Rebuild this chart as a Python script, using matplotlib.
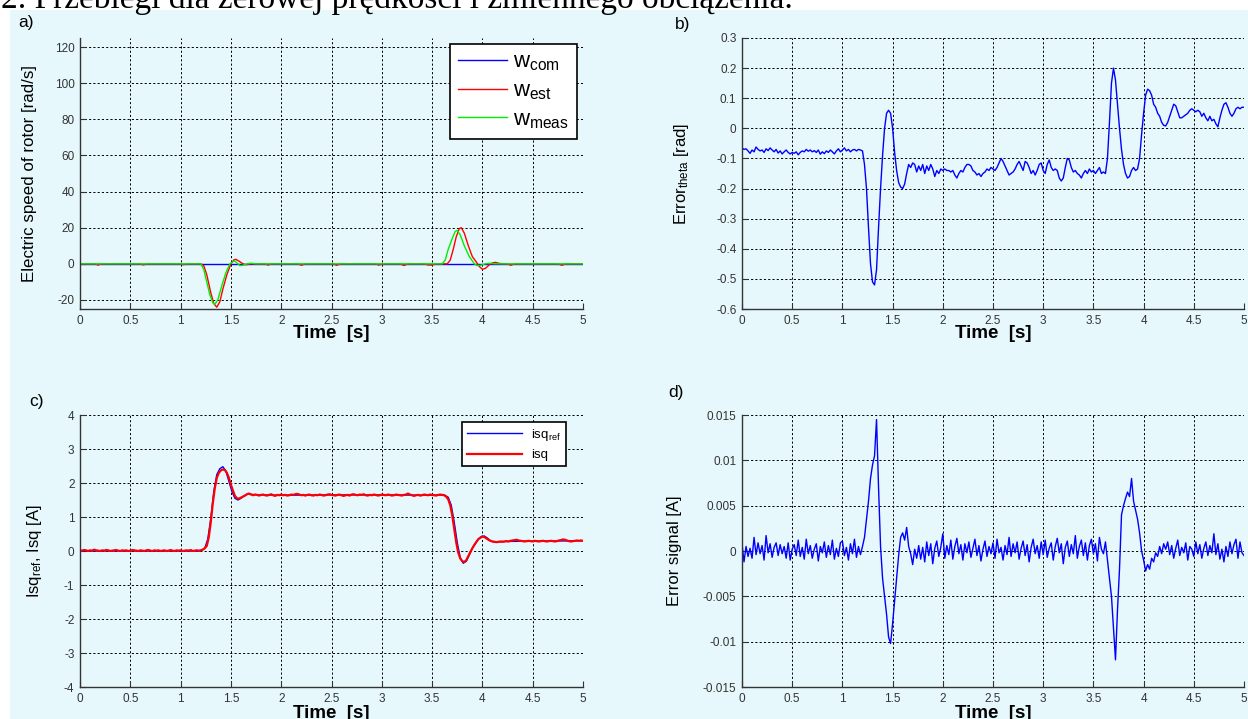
import numpy as np
import matplotlib
matplotlib.use('Agg')
import matplotlib.pyplot as plt
from matplotlib.patches import Rectangle

plt.rcParams['font.family'] = ['Liberation Sans', 'DejaVu Sans']
plt.rcParams['mathtext.fontset'] = 'custom'
plt.rcParams['mathtext.rm'] = 'Liberation Sans'
plt.rcParams['mathtext.it'] = 'Liberation Sans'

# ---------------- data ----------------
title_text = "2. Przebiegi dla zerowej prędkości i zmiennego obciążenia."
panel_labels = ["a)", "b)", "c)", "d)"]
xtick_vals = [0, 0.5, 1, 1.5, 2, 2.5, 3, 3.5, 4, 4.5, 5]
xtick_labels = ["0", "0.5", "1", "1.5", "2", "2.5", "3", "3.5", "4", "4.5", "5"]

# panel a
t_wcom = [0.0, 5.0]
w_com = [0.0, 0.0]
t_west = [0.0, 0.15, 0.18, 0.21, 0.6, 0.63, 0.66, 1.0, 1.03, 1.06, 1.2, 1.23, 1.26, 1.3, 1.33, 1.36,
          1.39, 1.42, 1.46, 1.5, 1.53, 1.55, 1.58, 1.62, 1.65, 1.7, 1.84, 1.87, 1.9, 2.17, 2.2, 2.24,
          2.52, 2.55, 2.59, 2.94, 2.97, 3.01, 3.18, 3.22, 3.26, 3.42, 3.46, 3.5, 3.54, 3.65, 3.68,
          3.71, 3.74, 3.77, 3.79, 3.82, 3.86, 3.9, 3.94, 3.97, 4.0, 4.03, 4.07, 4.1, 4.13, 4.17,
          4.25, 4.28, 4.32, 4.75, 4.79, 4.83, 5.0]
w_est = [0.0, 0.0, -0.7, 0.0, 0.0, -0.6, 0.0, 0.0, -0.5, 0.0, 0.0, -1.0, -6.0, -16.0, -22.0, -24.0,
         -21.0, -14.0, -6.0, 0.0, 2.2, 2.5, 1.5, 0.0, -0.5, 0.0, 0.0, -0.7, 0.0, 0.0, -0.8, 0.0,
         0.0, -0.8, 0.0, 0.0, -0.7, 0.0, 0.0, -0.9, 0.0, 0.0, -0.6, -0.7, 0.0, 0.0, 2.0,
         8.0, 15.0, 19.5, 20.0, 17.0, 10.0, 4.0, 1.0, -1.5, -3.0, -2.5, -0.5, 0.5, 0.8, 0.2,
         0.0, -0.8, 0.0, 0.0, -0.8, 0.0, 0.0]
t_wmeas = [0.0, 1.2, 1.23, 1.26, 1.29, 1.32, 1.34, 1.37, 1.41, 1.45, 1.49, 1.52, 1.54, 1.56, 1.59,
           1.62, 1.66, 1.7, 1.75, 3.6, 3.63, 3.66, 3.7, 3.73, 3.75, 3.78, 3.82, 3.87, 3.92, 3.95,
           3.98, 4.03, 4.08, 4.12, 5.0]
w_meas = [0.0, 0.0, -3.0, -10.0, -17.0, -21.5, -22.5, -20.0, -12.0, -5.0, 0.0, 1.3, 1.5, 0.5, -1.0,
          -0.8, 0.0, 0.3, 0.0, 0.0, 2.0, 8.0, 14.0, 18.0, 18.5, 16.0, 10.0, 4.0, 0.0, -1.0,
          -0.8, 0.0, 0.3, 0.0, 0.0]

# panel b (samples every 0.02 s)
error_theta = [
    -0.065, -0.070, -0.068, -0.075, -0.083, -0.072, -0.078, -0.062, -0.070, -0.075,
    -0.072, -0.080, -0.068, -0.074, -0.065, -0.072, -0.078, -0.070, -0.082, -0.075,
    -0.085, -0.078, -0.072, -0.080, -0.085, -0.080, -0.083, -0.078, -0.088, -0.080,
    -0.075, -0.078, -0.070, -0.076, -0.072, -0.078, -0.074, -0.080, -0.072, -0.086,
    -0.078, -0.084, -0.075, -0.080, -0.072, -0.078, -0.085, -0.075, -0.068, -0.078,
    -0.072, -0.065, -0.075, -0.070, -0.078, -0.072, -0.070, -0.075, -0.070, -0.072,
    -0.075, -0.120, -0.200, -0.330, -0.450, -0.510, -0.520, -0.470, -0.330, -0.200,
    -0.090, 0.000, 0.050, 0.060, 0.050, 0.000, -0.080, -0.140, -0.180, -0.195,
    -0.200, -0.185, -0.150, -0.120, -0.130, -0.115, -0.120, -0.145, -0.125, -0.140,
    -0.120, -0.150, -0.125, -0.140, -0.120, -0.135, -0.160, -0.140, -0.150, -0.135,
    -0.140, -0.135, -0.140, -0.140, -0.145, -0.140, -0.155, -0.165, -0.150, -0.140,
    -0.145, -0.130, -0.120, -0.120, -0.125, -0.140, -0.145, -0.155, -0.150, -0.160,
    -0.150, -0.145, -0.135, -0.140, -0.130, -0.135, -0.140, -0.130, -0.115, -0.100,
    -0.110, -0.125, -0.140, -0.155, -0.150, -0.145, -0.135, -0.120, -0.110, -0.125,
    -0.140, -0.110, -0.115, -0.130, -0.150, -0.140, -0.155, -0.140, -0.120, -0.115,
    -0.140, -0.150, -0.120, -0.105, -0.130, -0.140, -0.135, -0.140, -0.165, -0.175,
    -0.165, -0.130, -0.100, -0.105, -0.130, -0.145, -0.140, -0.150, -0.155, -0.165,
    -0.150, -0.140, -0.150, -0.135, -0.145, -0.140, -0.150, -0.140, -0.130, -0.150,
    -0.145, -0.150, -0.100, 0.020, 0.150, 0.200, 0.160, 0.080, 0.000, -0.070,
    -0.120, -0.150, -0.165, -0.160, -0.140, -0.130, -0.140, -0.135, -0.100, -0.020,
    0.050, 0.110, 0.130, 0.125, 0.110, 0.080, 0.070, 0.050, 0.040, 0.020,
    0.010, 0.008, 0.020, 0.040, 0.060, 0.080, 0.075, 0.055, 0.035, 0.035,
    0.040, 0.045, 0.050, 0.060, 0.065, 0.060, 0.055, 0.060, 0.055, 0.040,
    0.050, 0.035, 0.025, 0.040, 0.025, 0.030, 0.015, 0.005, 0.035, 0.060,
    0.080, 0.085, 0.070, 0.050, 0.040, 0.050, 0.065, 0.070, 0.065, 0.070,
    0.070]

# panel c
t_isqref = [0.0, 1.2, 1.24, 1.27, 1.30, 1.33, 1.36, 1.39, 1.42, 1.45, 1.48, 1.51, 1.54, 1.57, 1.60,
            1.63, 1.67, 1.72, 1.8, 2.0, 2.5, 3.0, 3.5, 3.62, 3.66, 3.69, 3.72, 3.75, 3.78, 3.81,
            3.84, 3.87, 3.90, 3.93, 3.96, 3.99, 4.02, 4.05, 4.08, 4.12, 4.2, 4.5, 5.0]
isq_ref = [0.0, 0.0, 0.08, 0.35, 0.95, 1.75, 2.25, 2.42, 2.48, 2.35, 2.05, 1.75, 1.55, 1.50, 1.55,
           1.62, 1.68, 1.66, 1.65, 1.64, 1.65, 1.65, 1.64, 1.65, 1.58, 1.35, 0.85, 0.25, -0.20, -0.36,
           -0.30, -0.12, 0.08, 0.22, 0.35, 0.43, 0.44, 0.38, 0.30, 0.26, 0.28, 0.29, 0.30]
isq = [
    0.02, 0.01, 0.03, 0.02, 0.00, 0.02, 0.01, 0.04, 0.02, 0.01,
    0.00, 0.02, 0.01, 0.03, 0.02, 0.00, 0.01, 0.02, 0.03, 0.01,
    0.00, 0.02, 0.01, 0.02, 0.00, 0.01, 0.03, 0.02, 0.01, 0.00,
    0.02, 0.01, 0.00, 0.02, 0.03, 0.01, 0.00, 0.02, 0.01, 0.02,
    0.00, 0.01, 0.02, 0.00, 0.01, 0.03, 0.01, 0.00, 0.02, 0.01,
    0.02, 0.00, 0.01, 0.02, 0.01, 0.03, 0.00, 0.01, 0.02, 0.01,
    0.02, 0.04, 0.08, 0.15, 0.40, 0.85, 1.40, 1.85, 2.15, 2.30,
    2.37, 2.40, 2.38, 2.30, 2.15, 1.95, 1.78, 1.62, 1.55, 1.54,
    1.57, 1.60, 1.63, 1.67, 1.69, 1.66, 1.64, 1.66, 1.65, 1.63,
    1.65, 1.66, 1.64, 1.63, 1.65, 1.67, 1.64, 1.62, 1.65, 1.64,
    1.66, 1.64, 1.65, 1.63, 1.64, 1.66, 1.65, 1.67, 1.68, 1.66,
    1.64, 1.65, 1.63, 1.65, 1.66, 1.64, 1.63, 1.65, 1.64, 1.66,
    1.65, 1.63, 1.64, 1.66, 1.67, 1.65, 1.64, 1.63, 1.65, 1.66,
    1.64, 1.62, 1.64, 1.65, 1.63, 1.66, 1.67, 1.65, 1.64, 1.66,
    1.65, 1.67, 1.64, 1.63, 1.65, 1.64, 1.66, 1.65, 1.63, 1.64,
    1.66, 1.65, 1.64, 1.66, 1.65, 1.63, 1.64, 1.66, 1.65, 1.64,
    1.63, 1.65, 1.66, 1.69, 1.66, 1.64, 1.62, 1.64, 1.65, 1.63,
    1.64, 1.66, 1.65, 1.64, 1.66, 1.65, 1.64, 1.63, 1.65, 1.66,
    1.65, 1.64, 1.60, 1.52, 1.35, 1.05, 0.65, 0.25, -0.05, -0.22,
    -0.30, -0.32, -0.27, -0.15, -0.03, 0.08, 0.18, 0.27, 0.35, 0.39,
    0.42, 0.41, 0.37, 0.33, 0.30, 0.28, 0.27, 0.26, 0.27, 0.28,
    0.27, 0.28, 0.29, 0.28, 0.30, 0.31, 0.32, 0.33, 0.31, 0.30,
    0.29, 0.28, 0.29, 0.30, 0.29, 0.28, 0.30, 0.29, 0.28, 0.29,
    0.30, 0.29, 0.28, 0.29, 0.30, 0.29, 0.28, 0.29, 0.31, 0.32,
    0.34, 0.33, 0.31, 0.29, 0.28, 0.29, 0.30, 0.31, 0.30, 0.31,
    0.30]

# panel d (samples every 0.02 s, in mA)
error_signal_mA = [
    0.8, -1.2, 0.5, -0.6, 0.3, -0.8, 1.5, -0.4, 0.9, -0.3,
    0.6, -1.0, 1.7, -0.2, 0.8, -0.7, 0.4, 0.9, -0.5, 0.7,
    -0.3, 0.5, -0.8, 0.9, -1.0, 0.2, 0.7, -0.5, 1.2, -0.6,
    0.4, -0.9, 1.3, -0.3, 0.6, -0.8, 0.2, 0.8, -1.1, 0.5,
    -0.2, 1.0, -0.7, 0.6, -0.4, 1.2, -0.9, 0.3, -0.6, 0.9,
    1.1, -0.5, 0.4, -1.0, 0.8, -0.3, 1.3, -0.7, 0.5, -0.4,
    0.5, 1.5, 3.5, 5.5, 8.0, 9.5, 10.5, 14.5, 7.0, 0.5,
    -3.0, -5.0, -7.0, -9.5, -10.2, -8.0, -5.5, -3.0, -0.5, 1.5,
    2.0, 1.2, 2.6, 0.5, -0.3, -1.5, 0.2, -0.8, 0.6, -0.9,
    0.4, -1.2, 1.0, -0.5, 0.8, -1.4, 0.3, 1.1, -0.6, 0.4,
    1.9, -0.8, 0.6, -0.4, 1.2, -0.9, 0.5, 1.4, -0.3, 0.7,
    -1.0, 0.8, -0.2, 1.0, -0.7, 0.3, 1.3, -0.5, 0.6, -1.1,
    0.2, 1.1, -0.6, 0.5, -0.3, 0.9, -0.8, 1.3, -0.2, 0.4,
    -1.0, 0.6, -0.4, 1.5, -0.6, 0.8, -0.2, 1.0, -0.9, 0.3,
    1.1, -0.5, 0.7, -1.2, 0.4, 1.3, -0.3, 0.6, -0.8, 1.0,
    -0.4, 1.2, -0.7, 0.3, 0.9, -1.0, 0.5, 1.4, -0.2, 0.8,
    -1.4, 0.4, 1.1, -0.6, 0.7, -0.3, 1.7, -0.8, 0.5, 1.2,
    -0.5, 0.9, -1.0, 0.6, 1.3, -0.3, 0.8, -1.1, 1.5, 0.2,
    -0.3, 1.0, -1.0, -3.0, -5.0, -8.5, -12.0, -6.5, -2.0, 4.0,
    5.0, 5.8, 6.5, 6.0, 8.0, 5.5, 4.5, 3.5, 2.0, 0.0,
    -1.0, -2.2, -1.5, -2.0, -0.8, -1.2, -0.2, -0.6, 0.5, -0.3,
    0.8, 0.2, 1.0, -0.4, 0.6, -0.8, 0.3, 1.2, -0.5, 0.4,
    -0.2, 0.9, -1.0, 0.5, 0.2, -0.6, 1.0, -0.3, 0.7, -0.8,
    0.3, 1.0, -0.5, 0.6, -0.2, 1.9, -0.4, 0.8, -0.9, 0.2,
    -1.2, 0.5, -0.6, 1.0, -0.3, 0.7, 1.3, -0.8, 1.0, -0.2,
    -0.5]

ytick_a = [-20, 0, 20, 40, 60, 80, 100, 120]
ytick_a_labels = ["-20", "0", "20", "40", "60", "80", "100", "120"]
ytick_b = [-0.6, -0.5, -0.4, -0.3, -0.2, -0.1, 0, 0.1, 0.2, 0.3]
ytick_b_labels = ["-0.6", "-0.5", "-0.4", "-0.3", "-0.2", "-0.1", "0", "0.1", "0.2", "0.3"]
ytick_c = [-4, -3, -2, -1, 0, 1, 2, 3, 4]
ytick_c_labels = ["-4", "-3", "-2", "-1", "0", "1", "2", "3", "4"]
ytick_d = [-0.015, -0.01, -0.005, 0, 0.005, 0.01, 0.015]
ytick_d_labels = ["-0.015", "-0.01", "-0.005", "0", "0.005", "0.01", "0.015"]

# ---------------- figure ----------------
W, H = 1248, 719
BG = '#e6f8fc'
fig = plt.figure(figsize=(W / 100, H / 100), dpi=100)
fig.patch.set_facecolor('white')
fig.add_artist(Rectangle((10 / W, 0), 1, 1 - 10 / H, transform=fig.transFigure,
                         facecolor=BG, edgecolor='none', zorder=0))


def px_axes(x0, x1, ytop, ybot):
    return [x0 / W, 1 - ybot / H, (x1 - x0) / W, (ybot - ytop) / H]


def style(ax, ylim, yt, ytl):
    ax.set_facecolor('none')
    ax.set_xlim(0, 5)
    ax.set_ylim(*ylim)
    ax.set_xticks(xtick_vals)
    ax.set_xticklabels(xtick_labels)
    ax.set_yticks(yt)
    ax.set_yticklabels(ytl)
    for s in ['top', 'right']:
        ax.spines[s].set_visible(False)
    for s in ['left', 'bottom']:
        ax.spines[s].set_color('#333333')
        ax.spines[s].set_linewidth(1.0)
    ax.tick_params(direction='in', length=4, width=0.8, color='#333333',
                   labelsize=8.5, labelcolor='#333333', pad=4)
    ax.grid(True, color='black', linestyle=(0, (2.2, 2.2)), linewidth=0.7)
    ax.set_axisbelow(True)


axa = fig.add_axes(px_axes(80, 583, 38, 309))
axb = fig.add_axes(px_axes(742, 1244, 38, 309))
axc = fig.add_axes(px_axes(80, 583, 415, 687))
axd = fig.add_axes(px_axes(742, 1244, 415, 687))

style(axa, (-25, 125), ytick_a, ytick_a_labels)
style(axb, (-0.6, 0.3), ytick_b, ytick_b_labels)
style(axc, (-4, 4), ytick_c, ytick_c_labels)
style(axd, (-0.015, 0.015), ytick_d, ytick_d_labels)

lw = 1.0
axa.plot(t_wcom, w_com, color='#0000ff', lw=lw, label=r'$\mathregular{w_{com}}$')
axa.plot(t_west, w_est, color='#ff0000', lw=lw, label=r'$\mathregular{w_{est}}$')
axa.plot(t_wmeas, w_meas, color='#00ee00', lw=lw, label=r'$\mathregular{w_{meas}}$')
leg = axa.legend(loc='upper left', bbox_to_anchor=(450 / W, 1 - 44 / H),
                 bbox_transform=fig.transFigure, borderaxespad=0, fancybox=False,
                 edgecolor='black', framealpha=1, fontsize=16, handlelength=2.2,
                 labelspacing=0.32, borderpad=0.35, handletextpad=0.3)
leg.get_frame().set_linewidth(1.2)

t_b = np.linspace(0, 5, len(error_theta))
axb.plot(t_b, error_theta, color='#0000ff', lw=lw)

t_c = np.linspace(0, 5, len(isq))
axc.plot(t_isqref, isq_ref, color='#0000ff', lw=1.0, label=r'$\mathregular{isq_{ref}}$')
axc.plot(t_c, isq, color='#ff0000', lw=1.6, label='isq')
leg2 = axc.legend(loc='upper left', bbox_to_anchor=(462 / W, 1 - 422 / H),
                  bbox_transform=fig.transFigure, borderaxespad=0, fancybox=False,
                  edgecolor='black', framealpha=1, fontsize=9.5, handlelength=4.2,
                  labelspacing=0.5, borderpad=0.35, handletextpad=0.7)
leg2.get_frame().set_linewidth(1.2)

t_d = np.linspace(0, 5, len(error_signal_mA))
axd.plot(t_d, np.array(error_signal_mA) / 1000.0, color='#0000ff', lw=lw)

# labels
fig.text(30 / W, 1 - 174 / H, 'Electric speed of rotor [rad/s]', rotation=90,
         ha='center', va='center', fontsize=12.2)
fig.text(682 / W, 1 - 174 / H, r'Error$_{\mathregular{theta}}$ [rad]', rotation=90,
         ha='center', va='center', fontsize=12)
fig.text(34 / W, 1 - 551 / H, r'Isq$_{\mathregular{ref}}$, Isq [A]', rotation=90,
         ha='center', va='center', fontsize=12)
fig.text(675 / W, 1 - 551 / H, 'Error signal [A]', rotation=90,
         ha='center', va='center', fontsize=12)
for cx, cy in [(331, 333), (993, 333), (331, 714), (993, 714)]:
    fig.text(cx / W, 1 - cy / H, 'Time  [s]', ha='center', va='center',
             fontsize=13.5, fontweight='bold')
for lab, (cx, cy) in zip(panel_labels, [(26, 22), (683, 24), (36, 402), (676, 393)]):
    fig.text(cx / W, 1 - cy / H, lab, ha='center', va='center', fontsize=12.5)

# top caption (cut off by page edge)
tt = fig.text(1 / W, 1 - 8 / H, title_text, ha='left', va='baseline',
              fontsize=23, family=['Liberation Serif', 'DejaVu Serif'], color='black')
fig.canvas.draw()
bb = tt.get_window_extent()
tt.set_fontsize(23 * 795 / bb.width)

fig.savefig('out.png', dpi=100, facecolor=fig.get_facecolor())
